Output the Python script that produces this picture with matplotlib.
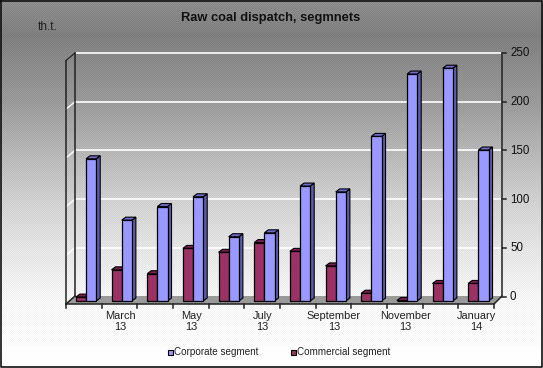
import matplotlib
matplotlib.use('Agg')
import matplotlib.pyplot as plt
import numpy as np
from matplotlib.patches import Polygon

W, H = 543, 368

labels = ['', 'March\n13', '', 'May\n13', '', 'July\n13', '', 'September\n13', '', 'November\n13', '', 'January\n14']
corporate = [146, 83, 97, 107, 66, 70, 118, 112, 169, 233, 239, 155]
commercial = [4, 32, 28, 54, 50, 60, 51, 36, 8, 0.5, 18, 18]
yticks = [0, 50, 100, 150, 200, 250]

# background gradient (row in px, grey level)
bg_rows = [0, 35, 100, 150, 200, 250, 300, 368]
bg_grey = [140, 127, 153, 181, 208, 229, 246, 255]

plt.rcParams['font.family'] = ['Liberation Sans', 'DejaVu Sans']

fig = plt.figure(figsize=(W / 100, H / 100), dpi=100)

# backdrop with an ordered dither like the original gif
bg = fig.add_axes([0, 0, 1, 1])
grey = np.interp(np.arange(H), bg_rows, bg_grey)
img = np.tile(grey[:, None], (1, W))
yy, xx = np.mgrid[0:H, 0:W]
img = img + np.where((xx + yy) % 2 == 0, 5, -5) * (img < 252)
bg.imshow(np.clip(img, 0, 255), cmap='gray', vmin=0, vmax=255, aspect='auto',
          interpolation='nearest', extent=[0, W, H, 0])
bg.set_xlim(0, W)
bg.set_ylim(H, 0)
bg.axis('off')
# black frame
bg.plot([0.5, W - 1.5, W - 1.5, 0.5, 0.5], [0.5, 0.5, H - 1.5, H - 1.5, 0.5], color='#111111', lw=1.2)

# front plane of the chart: bars stand on value 0 at y=301
px_left, px_width = 66, 428
px_base, px_per_unit = 301, 0.974
ax = fig.add_axes([px_left / W, 1 - px_base / H, px_width / W, 250 * px_per_unit / H])
ax.set_xlim(0, 12)
ax.set_ylim(0, 250)
ax.axis('off')
ux = 12 / px_width  # data units per px
uy = 1 / px_per_unit


def pt(x, v, dx=0, dy=0):
    # data point plus a pixel offset (dy up)
    return (x + dx * ux, v + dy * uy)


def poly(points, **kw):
    ax.add_patch(Polygon(points, closed=True, clip_on=False, **kw))


# floor
poly([pt(0, 0, 0, -3), pt(12, 0, 0, -3), pt(12, 0, 8, 5), pt(0, 0, 9, 5)],
     facecolor='#9a9a9a', edgecolor='none', zorder=1)

# gridlines on back wall and side wall
for v in yticks[1:]:
    ax.plot(*zip(pt(0, v, 9, 4.5), pt(12, v, 8, 4.5)), color='white', lw=1.2, clip_on=False, zorder=2)
    ax.plot(*zip(pt(0, v, 0, -3), pt(0, v, 9, 4.5)), color='white', lw=1.0, clip_on=False, zorder=2)

# walls and axes
line = dict(color='#222222', lw=1.1, clip_on=False, zorder=3)
ax.plot(*zip(pt(0, 0, 0, -3), pt(0, 250, 0, -3)), **line)
ax.plot(*zip(pt(0, 0, 9, 5), pt(0, 250, 9, 4.5)), **line)
ax.plot(*zip(pt(0, 250, 0, -3), pt(0, 250, 9, 4.5)), **line)
ax.plot(*zip(pt(0, 0, 0, -3), pt(12, 0, 0, -3)), **line)
ax.plot(*zip(pt(12, 0, 0, -3), pt(12, 0, 8, 5)), **line)
ax.plot(*zip(pt(12, 0, 8, 5), pt(12, 250, 8, 4.5)), **line)
ax.plot(*zip(pt(0, 0, 0, -3), pt(0, 0, 9, 5)), **line)

for i in range(13):
    ax.plot(*zip(pt(i, 0, 0, -3), pt(i, 0, 0, -7)), **line)

for v in yticks:
    ax.plot(*zip(pt(12, v, 8, 4.5), pt(12, v, 12, 4.5)), **line)
    x, y = pt(12, v, 16, 4)
    ax.text(x, y, str(v), fontsize=8.3, color='#111111', ha='left', va='center', clip_on=False)

for i, lab in enumerate(labels):
    if lab:
        x, y = pt(i + 0.5, 0, 0.5, -10)
        ax.text(x, y, lab, fontsize=7.9, color='#222222', ha='center', va='top',
                linespacing=1.15, clip_on=False)

# bars
bar_w = 0.285
shift = 2.2 * ux
x = np.arange(12) + 0.5 + shift


def bars(xs, values, front, top, side, z):
    for i, (b, v) in enumerate(zip(xs, values)):
        zz = z + i * 0.01
        l, r = b - bar_w / 2, b + bar_w / 2
        poly([pt(r, 0), pt(r, 0, 4, 3), pt(r, v, 4, 3), pt(r, v)],
             facecolor=side, edgecolor='black', lw=0.8, zorder=zz)
        poly([pt(l, v), pt(r, v), pt(r, v, 4, 3), pt(l, v, 4, 3)],
             facecolor=top, edgecolor='black', lw=0.8, zorder=zz)
        ax.bar(b, v, bar_w, color=front, edgecolor='black', lw=0.9, clip_on=False, zorder=zz + 0.005)


bars(x - bar_w / 2, commercial, '#993366', '#7a1f50', '#5e1c40', 4)
bars(x + bar_w / 2, corporate, '#9999ff', '#6e6ed0', '#5c5caa', 5)

# title, unit and legend in pixel coords
bg.text(270.5, 18.5, 'Raw coal dispatch, segmnets', fontsize=9.3, fontweight='bold',
        color='#111111', ha='center', va='center')
bg.text(47.5, 27, 'th.t.', fontsize=8.6, color='#222222', ha='center', va='center')

bg.add_patch(plt.Rectangle((167.5, 349.5), 5, 5, facecolor='#9999ff', edgecolor='black', lw=0.8))
bg.text(174, 352, 'Corporate segment', fontsize=7.1, color='#222222', ha='left', va='center')
bg.add_patch(plt.Rectangle((290.5, 349.5), 5, 5, facecolor='#993366', edgecolor='black', lw=0.8))
bg.text(297, 352, 'Commercial segment', fontsize=7.1, color='#222222', ha='left', va='center')

fig.savefig('out.png', dpi=100)
